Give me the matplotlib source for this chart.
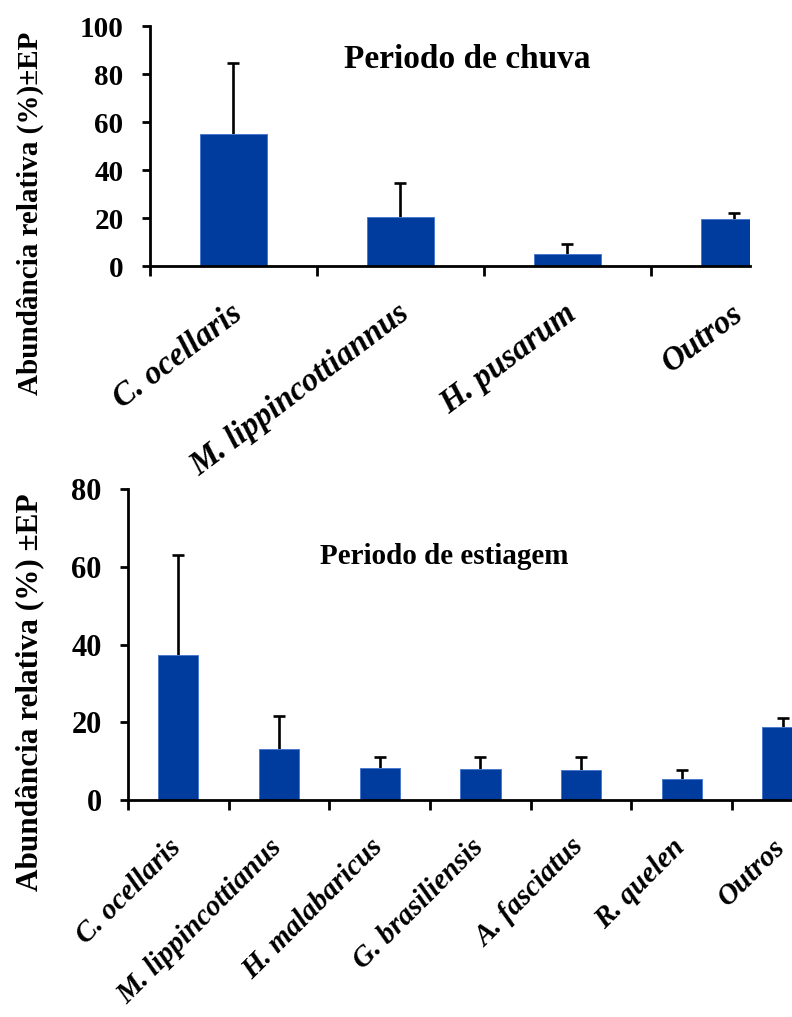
import matplotlib
matplotlib.use("Agg")
import matplotlib.pyplot as plt
import matplotlib.transforms as mtransforms
import numpy as np

# Rainy season (Periodo de chuva)
chuva_species = ["C. ocellaris", "M. lippincottiannus", "H. pusarum", "Outros"]
chuva_mean = [55.2, 20.5, 5.0, 19.5]
chuva_ep = [29.3, 14.0, 4.0, 2.5]

# Dry season (Periodo de estiagem)
estiagem_species = ["C. ocellaris", "M. lippincottianus", "H. malabaricus",
                    "G. brasiliensis", "A. fasciatus", "R. quelen", "Outros"]
estiagem_mean = [37.3, 13.1, 8.3, 8.0, 7.7, 5.4, 18.8]
estiagem_ep = [25.6, 8.6, 2.7, 3.0, 3.3, 2.4, 2.3]

BAR_COLOR = "#003c9e"
SERIF = "Liberation Serif"

fig = plt.figure(figsize=(7.92, 10.17), dpi=100)


def draw_panel(rect, species, mean, ep, ymax, yticks, xmax, title, title_xy,
               label_rot, label_dx, label_dy, tick_fs, label_fs, title_fs):
    ax = fig.add_axes(rect)
    x = np.arange(len(species))
    # error bars sit behind the bars so only the upper half shows
    ax.errorbar(x, mean, yerr=ep, fmt="none", ecolor="black",
                elinewidth=1.9, capsize=4.0, capthick=1.9, zorder=1)
    ax.bar(x, mean, width=0.4, color=BAR_COLOR, edgecolor="#4a78cc",
           linewidth=0.7, zorder=2)
    for s in ("top", "right"):
        ax.spines[s].set_visible(False)
    for s in ("left", "bottom"):
        ax.spines[s].set_linewidth(2.0)
        ax.spines[s].set_zorder(3)
    ax.set_yticks(yticks)
    ax.set_yticklabels([str(v) for v in yticks], fontfamily=SERIF,
                       fontweight="bold", fontsize=tick_fs)
    ax.tick_params(axis="y", direction="out", length=6, width=2.0, pad=13)
    # category boundaries carry the tick marks, centres carry the labels
    ax.set_xticks(np.arange(-0.5, len(species) - 0.4, 1.0), minor=True)
    ax.set_xticks(x)
    ax.set_xticklabels([])
    ax.tick_params(axis="x", which="minor", direction="out", length=7,
                   width=2.0)
    ax.tick_params(axis="x", which="major", length=0)
    ax.set_xlim(-0.5, xmax)
    ax.set_ylim(0, ymax)
    trans = ax.get_xaxis_transform()
    off = mtransforms.ScaledTranslation(label_dx / 72, -label_dy / 72,
                                        fig.dpi_scale_trans)
    for xi, name in zip(x, species):
        ax.text(xi, 0, name, transform=trans + off, rotation=label_rot,
                rotation_mode="anchor", ha="right", va="center",
                fontfamily=SERIF, fontweight="bold", fontstyle="italic",
                fontsize=label_fs, clip_on=False)
    fig.text(title_xy[0], title_xy[1], title, ha="center", va="center",
             fontfamily=SERIF, fontweight="bold", fontsize=title_fs)
    return ax


W, H = 792, 1017

ax1 = draw_panel(
    rect=[150 / W, 1 - 266 / H, 600 / W, 240 / H],
    species=chuva_species, mean=chuva_mean, ep=chuva_ep,
    ymax=100, yticks=[0, 20, 40, 60, 80, 100], xmax=3.093,
    title="Periodo de chuva", title_xy=(467 / W, 1 - 60 / H),
    label_rot=37, label_dx=4, label_dy=32,
    tick_fs=21, label_fs=23.5, title_fs=24)
fig.text(30 / W, 1 - 213 / H, "Abundância relativa (%)±EP", rotation=90,
         ha="center", va="center", fontfamily=SERIF, fontweight="bold",
         fontsize=21)

ax2 = draw_panel(
    rect=[128 / W, 1 - 800 / H, 664 / W, 311 / H],
    species=estiagem_species, mean=estiagem_mean, ep=estiagem_ep,
    ymax=80, yticks=[0, 20, 40, 60, 80], xmax=6.094,
    title="Periodo de estiagem", title_xy=(444 / W, 1 - 556 / H),
    label_rot=45, label_dx=-1, label_dy=31,
    tick_fs=22, label_fs=21, title_fs=21)
fig.text(30 / W, 1 - 692 / H, "Abundância relativa (%) ±EP", rotation=90,
         ha="center", va="center", fontfamily=SERIF, fontweight="bold",
         fontsize=22.5)

fig.savefig("out.png", dpi=100)
